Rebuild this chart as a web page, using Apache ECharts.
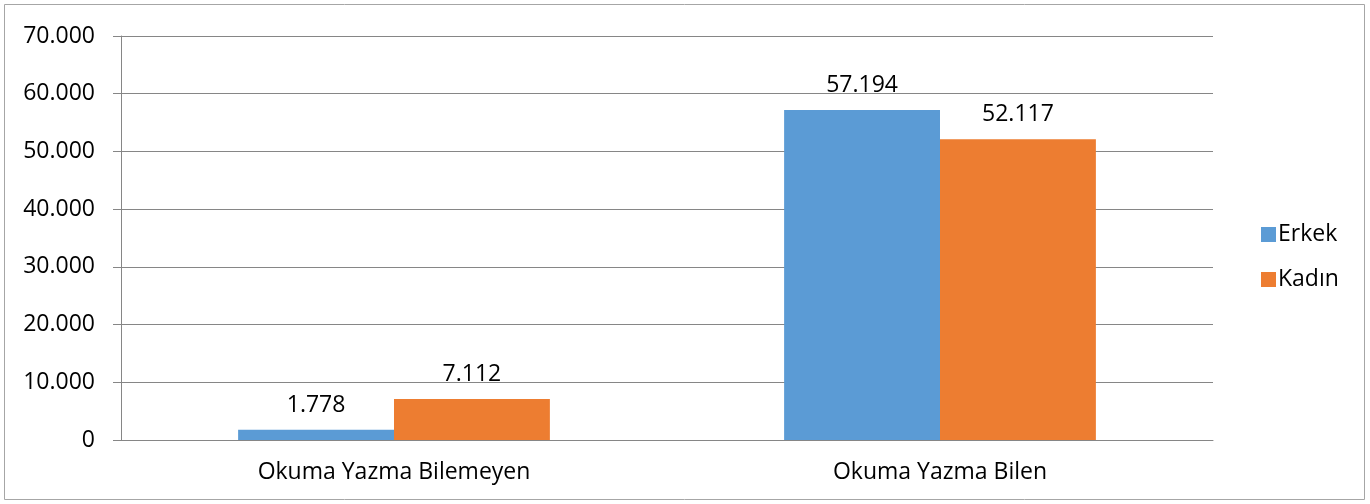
<!DOCTYPE html>
<html lang="tr">
<head>
    <meta charset="UTF-8">
    <title>Okuma Yazma</title>
    <script src="https://cdn.jsdelivr.net/npm/echarts@6/dist/echarts.min.js"></script>
    <style>
        body { margin: 0; background: #fff; }
        #main { width: 1370px; height: 504px; }
    </style>
</head>
<body>
<div id="main"></div>
<script>
    var categories = ['Okuma Yazma Bilemeyen', 'Okuma Yazma Bilen'];
    var erkek = [1778, 57194];
    var kadin = [7112, 52117];
    var yTicks = [0, 10000, 20000, 30000, 40000, 50000, 60000, 70000];

    // 70000 -> "70.000"
    function fmt(v) {
        return String(v).replace(/\B(?=(\d{3})+(?!\d))/g, '.');
    }

    var font = '"Open Sans", "DejaVu Sans", sans-serif';
    var fs = 23;
    var chart = echarts.init(document.getElementById('main'));
    chart.setOption({
        animation: false,
        textStyle: { fontFamily: font },
        graphic: [{
            type: 'rect',
            shape: { x: 4.5, y: 4.5, width: 1360, height: 495 },
            style: { fill: 'none', stroke: '#a6a6a6', lineWidth: 1 },
            silent: true
        }],
        grid: { left: 121, right: 157, top: 36, bottom: 64 },
        legend: {
            orient: 'vertical',
            left: 1256,
            top: 218,
            itemWidth: 15,
            itemHeight: 15,
            itemGap: 22,
            icon: 'rect',
            textStyle: { fontSize: fs, color: '#000', fontFamily: font, padding: [0, 0, 0, -3] },
            data: ['Erkek', 'Kadın']
        },
        xAxis: {
            type: 'category',
            data: categories,
            axisLine: { lineStyle: { color: '#868686', width: 1 } },
            axisTick: { length: 8, lineStyle: { color: '#868686' } },
            axisLabel: { color: '#000', fontSize: fs, margin: 21, fontFamily: font }
        },
        yAxis: {
            type: 'value',
            min: yTicks[0],
            max: yTicks[yTicks.length - 1],
            interval: 10000,
            axisLine: { show: true, lineStyle: { color: '#868686', width: 1 } },
            axisTick: { show: true, length: 8, lineStyle: { color: '#868686' } },
            splitLine: { lineStyle: { color: '#868686', width: 1 } },
            axisLabel: { color: '#000', fontSize: fs, margin: 26, fontFamily: font, formatter: fmt }
        },
        series: [{
            name: 'Erkek',
            type: 'bar',
            data: erkek,
            barGap: '0%',
            barCategoryGap: '42.9%',
            itemStyle: { color: '#5b9bd5' },
            label: { show: true, position: 'top', distance: 13, color: '#000', fontSize: fs, fontFamily: font, formatter: function (p) { return fmt(p.value); } }
        }, {
            name: 'Kadın',
            type: 'bar',
            data: kadin,
            itemStyle: { color: '#ed7d31' },
            label: { show: true, position: 'top', distance: 13, color: '#000', fontSize: fs, fontFamily: font, formatter: function (p) { return fmt(p.value); } }
        }]
    });
</script>
</body>
</html>
